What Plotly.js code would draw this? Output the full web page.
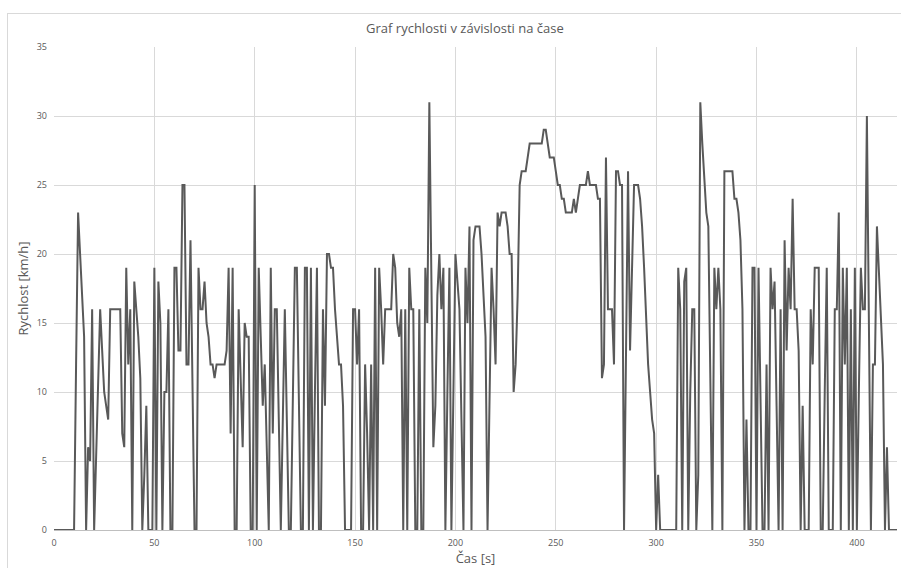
<!DOCTYPE html>
<html>
<head>
<meta charset="utf-8">
<script src="https://cdn.plot.ly/plotly-3.0.1.min.js"></script>
<style>
html,body{margin:0;padding:0;background:#fff;}
#frame{position:absolute;left:7px;top:13px;width:1000px;height:1000px;border-left:1px solid #d9d9d9;border-top:1px solid #d9d9d9;}
#chart{position:absolute;left:0;top:0;width:901px;height:568px;}
</style>
</head>
<body>
<div id="frame"></div>
<div id="chart"></div>
<script>
// time in seconds
const time = [];
for (let i = 0; i <= 420; i++) time.push(i);
// speed in km/h, one reading per second
const speed = [
0,0,0,0,0,0,0,0,0,0,0,12,23,20,17,14,0,6,5,16,
0,5,11,16,13,10,9,8,16,16,16,16,16,16,7,6,19,12,16,0,
18,16,14,11,0,4,9,0,0,0,19,0,18,15,0,10,10,16,0,0,
19,19,13,13,25,25,12,12,21,11,0,0,19,16,16,18,15,14,12,12,
11,12,12,12,12,12,13,19,7,19,0,0,16,11,6,15,14,14,0,0,
25,0,19,14,9,12,6,0,19,7,16,16,8,0,8,16,8,0,0,10,
19,19,10,0,0,19,19,0,19,0,10,19,0,0,16,9,20,20,19,19,
16,14,12,12,9,0,0,0,0,16,16,12,16,0,0,12,7,0,12,0,
19,0,19,16,12,16,16,16,16,20,19,15,14,16,0,16,0,19,16,16,
0,0,16,0,0,19,15,31,18,6,9,17,20,16,19,0,10,19,0,10,
20,18,16,8,0,19,15,22,0,21,22,22,22,20,17,14,0,10,19,16,
12,23,22,23,23,23,22,20,20,10,12,17,25,26,26,26,27,28,28,28,
28,28,28,28,29,29,28,27,27,27,26,25,25,24,24,23,23,23,23,24,
23,24,25,25,25,25,26,25,25,25,25,24,24,11,12,27,16,16,16,12,
26,26,25,25,0,13,26,13,19,25,25,25,24,22,19,15,12,10,8,7,
0,4,0,0,0,0,0,0,0,0,0,19,16,0,18,19,0,10,16,16,
0,4,31,28,25,23,22,11,0,19,16,19,16,0,26,26,26,26,26,24,
24,23,21,16,0,8,0,0,19,19,0,19,9,0,0,12,0,19,16,18,
9,0,16,0,21,13,19,16,24,16,16,13,0,9,0,0,0,16,12,19,
19,19,0,0,10,19,0,0,0,16,16,23,0,19,12,19,0,16,0,19,
0,10,19,16,16,30,15,0,12,12,22,19,15,12,0,6,0,0,0,0,
0
];
const xTicks = [0,50,100,150,200,250,300,350,400];
const yTicks = [0,5,10,15,20,25,30,35];

const font = "'Open Sans', 'DejaVu Sans', sans-serif";
const trace = {
  x: time, y: speed, type: 'scatter', mode: 'lines',
  line: {color: '#595959', width: 2},
  hoverinfo: 'skip'
};
const layout = {
  width: 901, height: 568,
  margin: {l: 54, r: 4, t: 47, b: 38},
  paper_bgcolor: 'rgba(0,0,0,0)',
  plot_bgcolor: 'rgba(0,0,0,0)',
  showlegend: false,
  font: {family: font, color: '#595959'},
  title: {text: 'Graf rychlosti v závislosti na čase', x: 0.516, xanchor: 'center', y: 0.95, yanchor: 'middle', yref: 'container',
          font: {family: font, size: 13, color: '#595959'}},
  xaxis: {
    range: [0, 420], tickvals: xTicks, ticktext: xTicks.map(String),
    showgrid: true, gridcolor: '#d9d9d9', gridwidth: 1,
    zeroline: false, showline: true, linecolor: '#bfbfbf', linewidth: 1,
    ticks: '', tickfont: {size: 9, color: '#595959'}, ticklabelstandoff: 4,
    title: {text: 'Čas [s]', font: {size: 13, color: '#595959'}, standoff: 4}
  },
  yaxis: {
    range: [0, 35], tickvals: yTicks, ticktext: yTicks.map(String),
    showgrid: true, gridcolor: '#d9d9d9', gridwidth: 1,
    zeroline: false, showline: false,
    ticks: '', tickfont: {size: 9, color: '#595959'}, ticklabelstandoff: 6,
    title: {text: 'Rychlost [km/h]', font: {size: 13, color: '#595959'}, standoff: 5}
  }
};
Plotly.newPlot('chart', [trace], layout, {displayModeBar: false, staticPlot: true});
</script>
</body>
</html>
